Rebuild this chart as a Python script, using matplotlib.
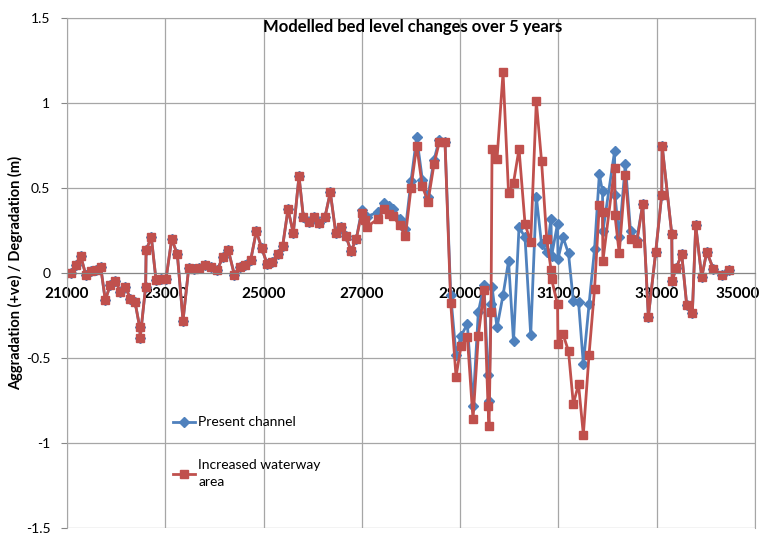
import numpy as np
import matplotlib.pyplot as plt
import matplotlib.transforms as mtransforms

# chainage (m) and bed level change (m)
# upstream reach - both scenarios give the same result
upstream_x = [21075, 21177, 21279, 21381, 21482, 21584, 21686, 21779, 21881, 21983,
              22085, 22186, 22288, 22384, 22480, 22490, 22600, 22610, 22716, 22811,
              22913, 23015, 23131, 23245, 23361, 23477, 23591, 23692, 23808, 23924,
              24053, 24175, 24282, 24405, 24514, 24628, 24738, 24852, 24962, 25070,
              25178, 25288, 25389, 25497, 25605, 25721, 25809, 25919, 26026, 26134,
              26250, 26358, 26468, 26576, 26671, 26779, 26887]
upstream_dz = [0.00, 0.05, 0.10, -0.01, 0.01, 0.02, 0.035, -0.16, -0.07, -0.045,
               -0.11, -0.08, -0.15, -0.17, -0.32, -0.38, -0.08, 0.135, 0.21, -0.04,
               -0.035, -0.035, 0.20, 0.11, -0.28, 0.03, 0.025, 0.03, 0.05, 0.035,
               0.016, 0.096, 0.135, -0.01, 0.037, 0.05, 0.076, 0.245, 0.147, 0.055,
               0.067, 0.112, 0.16, 0.375, 0.235, 0.57, 0.33, 0.30, 0.33, 0.296,
               0.33, 0.475, 0.237, 0.27, 0.22, 0.13, 0.20]

# middle reach - scenarios differ
middle_x = [26997, 27064, 27095, 27335, 27451, 27553, 27640, 27766, 27888, 28000,
            28116, 28230, 28346, 28468, 28576, 28692, 28808, 28916, 29018, 29146,
            29262, 29370, 29486, 29567, 29588, 29628, 29649, 29750, 29873, 29985,
            30086, 30198, 30320, 30436, 30550, 30656, 30762, 30849, 30860, 30982,
            30990, 31094, 31205, 31303, 31409, 31507, 31623, 31735, 31832, 31897,
            31905, 32142, 32150, 32237, 32361, 32467, 32593]
present_mid = [0.37, 0.33, 0.33, 0.36, 0.41, 0.395, 0.375, 0.32, 0.26, 0.54,
               0.80, 0.55, 0.45, 0.665, 0.785, 0.77, -0.13, -0.48, -0.37, -0.30,
               -0.78, -0.23, -0.07, -0.60, -0.75, -0.18, -0.08, -0.32, -0.13, 0.07,
               -0.40, 0.27, 0.21, -0.365, 0.45, 0.17, 0.125, 0.32, 0.10, 0.29,
               0.08, 0.21, 0.115, -0.165, -0.17, -0.535, -0.185, 0.14, 0.58, 0.48,
               0.245, 0.715, 0.46, 0.21, 0.64, 0.247, 0.194]
increased_mid = [0.355, 0.31, 0.27, 0.32, 0.375, 0.35, 0.335, 0.28, 0.22, 0.50,
                 0.75, 0.51, 0.42, 0.64, 0.77, 0.77, -0.175, -0.61, -0.43, -0.375,
                 -0.86, -0.37, -0.10, -0.78, -0.90, -0.23, 0.73, 0.67, 1.18, 0.47,
                 0.53, 0.73, 0.29, 0.18, 1.01, 0.66, 0.20, 0.02, -0.035, -0.185,
                 -0.42, -0.36, -0.46, -0.77, -0.655, -0.95, -0.48, -0.094, 0.40, 0.36,
                 0.07, 0.62, 0.34, 0.116, 0.576, 0.20, 0.175]

# downstream reach - same again
downstream_x = [32715, 32830, 32980, 33102, 33110, 33306, 33315, 33393, 33509, 33611,
                33725, 33794, 33916, 34018, 34152, 34323, 34478]
downstream_dz = [0.405, -0.257, 0.125, 0.46, 0.75, 0.23, -0.045, 0.027, 0.11, -0.19,
                 -0.237, 0.28, -0.025, 0.125, 0.024, -0.012, 0.018]

x_ticks = [21000, 23000, 25000, 27000, 29000, 31000, 33000, 35000]
y_ticks = [-1.5, -1, -0.5, 0, 0.5, 1, 1.5]
y_labels = ['-1.5', '-1', '-0.5', '0', '0.5', '1', '1.5']

chainage = upstream_x + middle_x + downstream_x
present = upstream_dz + present_mid + downstream_dz
increased = upstream_dz + increased_mid + downstream_dz

plt.rcParams['font.family'] = ['Lato', 'DejaVu Sans']

fig = plt.figure(figsize=(7.73, 5.34), dpi=100)
ax = fig.add_axes([67/773, 1 - 528/534, (755 - 67)/773, (528 - 18)/534])

ax.plot(chainage, present, color='#4F81BD', lw=2, marker='D', ms=5.5,
        label='Present channel')
ax.plot(chainage, increased, color='#C0504D', lw=2, marker='s', ms=6,
        label='Increased waterway\narea')

ax.set_xlim(21000, 35000)
ax.set_ylim(-1.5, 1.5)
ax.set_xticks(x_ticks)
ax.set_yticks(y_ticks)
ax.set_yticklabels(y_labels)
ax.grid(True, color='#a6a6a6', lw=0.9)
ax.set_axisbelow(True)

# x axis crosses at zero like in excel
ax.spines['bottom'].set_position(('data', 0))
ax.spines['bottom'].set_color('#868686')
for s in ['left', 'top', 'right']:
    ax.spines[s].set_color('#a6a6a6')
ax.tick_params(axis='x', length=4, color='#868686', pad=6, labelsize=11)
ax.tick_params(axis='y', length=4, color='#868686', pad=8, labelsize=10)
for lab in ax.get_xticklabels():
    lab.set_fontweight('bold')
# last label pulled inside the figure
last = ax.get_xticklabels()[-1]
last.set_ha('right')
last.set_transform(last.get_transform() +
                   mtransforms.ScaledTranslation(5/100, 0, fig.dpi_scale_trans))

ax.set_ylabel('Aggradation (+ve) / Degradation (m)', fontsize=10.5,
              fontweight='bold')
ax.yaxis.set_label_coords(-0.064, 0.5)

fig.text(413/773, 1 - 27/534, 'Modelled bed level changes over 5 years',
         ha='center', va='center', fontsize=12, fontweight='bold')

leg = ax.legend(loc='upper left', bbox_to_anchor=(160/773, 1 - 404/534),
                bbox_transform=fig.transFigure, frameon=False, fontsize=10,
                labelspacing=2.2, handlelength=1.6, handletextpad=0.25)
for t in leg.get_texts():
    t.set_linespacing(1.5)

fig.savefig('out.png', dpi=100)
